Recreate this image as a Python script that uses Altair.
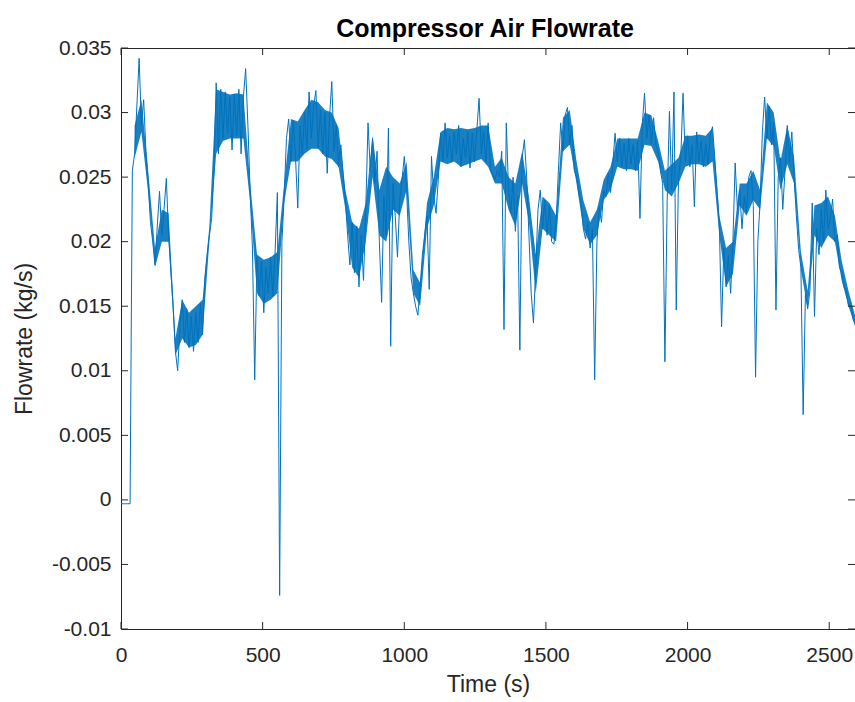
import altair as alt
import pandas as pd

# Sampling grid (s) and flowrate, in units of 1e-4 kg/s
TIME_S = list(range(0, 2600, 8))
FLOW_1E4 = [
    -3, -3, -3, -3, -3,
    255, 268, 305, 342, 290,
    310, 270, 245, 215, 200,
    182, 212, 239, 205, 225,
    249, 205, 178, 150, 115,
    100, 135, 155, 122, 148,
    118, 142, 115, 145, 122,
    152, 128, 172, 190, 205,
    218, 255, 323, 268, 318,
    280, 316, 284, 312, 271,
    314, 282, 318, 268, 312,
    334, 290, 238, 195, 93,
    188, 158, 185, 145, 180,
    160, 188, 158, 192, 238,
    -74, 200, 235, 280, 295,
    262, 294, 265, 226, 290,
    268, 300, 272, 316, 280,
    305, 317, 272, 302, 268,
    300, 253, 296, 324, 270,
    290, 258, 275, 253, 232,
    205, 182, 215, 176, 212,
    165, 205, 170, 225, 292,
    255, 280, 245, 270, 200,
    153, 235, 205, 288, 119,
    245, 220, 188, 232, 248,
    266, 240, 200, 172, 160,
    150, 143, 165, 190, 205,
    220, 163, 266, 235, 222,
    248, 284, 262, 292, 265,
    282, 262, 285, 268, 290,
    258, 280, 265, 285, 257,
    284, 262, 286, 311, 268,
    285, 262, 292, 256, 252,
    248, 255, 250, 270, 132,
    292, 240, 222, 250, 208,
    235, 116, 265, 279, 250,
    205, 160, 137, 180, 225,
    240, 210, 232, 205, 228,
    200, 198, 215, 255, 292,
    270, 298, 304, 275, 290,
    255, 250, 238, 230, 210,
    202, 215, 195, 210, 93,
    200, 227, 215, 240, 235,
    253, 238, 260, 284, 262,
    280, 258, 276, 255, 280,
    260, 275, 255, 278, 218,
    290, 315, 280, 298, 276,
    296, 275, 270, 255, 245,
    107, 232, 301, 240, 316,
    147, 250, 265, 315, 262,
    282, 258, 275, 227, 285,
    262, 278, 258, 276, 260,
    282, 289, 265, 240, 215,
    134, 195, 165, 190, 160,
    200, 261, 225, 240, 210,
    235, 222, 250, 255, 228,
    95, 200, 230, 285, 312,
    280, 305, 275, 292, 147,
    250, 265, 225, 255, 290,
    262, 285, 250, 220, 194,
    180, 66, 160, 148, 162,
    230, 142, 210, 190, 225,
    200, 240, 210, 218, 233,
    200, 205, 180, 176, 165,
    162, 150, 153, 140, 136,
]

# Dense noise band (lower / upper edge), 1e-4 kg/s
BAND_T = [
    48, 72, 96, 120, 144, 168, 192, 216, 240,
    264, 288, 312, 336, 360, 384, 408, 432, 456,
    480, 504, 528, 552, 576, 600, 624, 648, 672,
    696, 720, 744, 768, 792, 816, 840, 864, 888,
    912, 936, 960, 984, 1008, 1032, 1056, 1080, 1104,
    1128, 1152, 1176, 1200, 1224, 1248, 1272, 1296, 1320,
    1344, 1368, 1392, 1416, 1440, 1464, 1488, 1512, 1536,
    1560, 1584, 1608, 1632, 1656, 1680, 1704, 1728, 1752,
    1776, 1800, 1824, 1848, 1872, 1896, 1920, 1944, 1968,
    1992, 2016, 2040, 2064, 2088, 2112, 2136, 2160, 2184,
    2208, 2232, 2256, 2280, 2304, 2328, 2352, 2376, 2400,
    2424, 2448, 2472, 2496, 2520, 2544, 2568, 2592,
]
BAND_LO = [
    265, 285, 238, 180, 200, 200, 112, 125, 118,
    120, 128, 200, 268, 278, 280, 280, 280, 230,
    160, 152, 155, 160, 230, 262, 262, 268, 272,
    272, 266, 264, 258, 225, 180, 172, 200, 250,
    205, 200, 225, 220, 240, 160, 150, 210, 228,
    262, 260, 262, 258, 260, 262, 264, 258, 245,
    245, 225, 212, 245, 215, 160, 210, 205, 200,
    270, 275, 245, 210, 198, 205, 232, 240, 258,
    256, 256, 255, 275, 274, 262, 240, 235, 245,
    258, 260, 260, 258, 262, 205, 165, 175, 228,
    220, 232, 225, 280, 274, 240, 260, 245, 178,
    148, 205, 195, 205, 200, 170, 150, 134,
]
BAND_HI = [
    290, 310, 255, 195, 225, 222, 125, 155, 145,
    150, 155, 212, 318, 316, 314, 315, 314, 245,
    190, 186, 188, 192, 245, 295, 293, 302, 310,
    308, 302, 300, 288, 240, 215, 210, 230, 282,
    240, 258, 250, 245, 262, 178, 168, 230, 250,
    285, 288, 287, 288, 287, 288, 290, 290, 258,
    265, 250, 245, 270, 235, 190, 235, 230, 220,
    296, 302, 262, 232, 215, 225, 248, 258, 280,
    280, 280, 280, 300, 298, 278, 255, 260, 265,
    282, 282, 283, 282, 288, 220, 195, 200, 245,
    245, 255, 240, 308, 300, 262, 290, 265, 192,
    162, 228, 230, 235, 220, 185, 162, 142,
]

TITLE = ["Compressor Air Flowrate"]
X_TICKS = [0, 500, 1000, 1500, 2000, 2500]
Y_TICKS = [-0.01, -0.005, 0, 0.005, 0.01, 0.015, 0.02, 0.025, 0.03, 0.035]
X_DOMAIN = [0, 2591]
Y_DOMAIN = [-0.01, 0.035]

df = pd.DataFrame({"t": TIME_S, "v": [f / 10000 for f in FLOW_1E4]})
band = pd.DataFrame(
    [{"t": t, "v": lo / 10000, "v2": hi / 10000} for t, lo, hi in zip(BAND_T, BAND_LO, BAND_HI)]
)
xt = pd.DataFrame({"t": X_TICKS})
yt = pd.DataFrame({"v": Y_TICKS})
tt = pd.DataFrame({"title": TITLE})

W, H = 734, 581
FONT = "Liberation Sans"
AX = "#262626"
BLUE = "#0072BD"

x_axis = alt.Axis(
    values=X_TICKS, format="d", title="Time (s)", grid=False, ticks=False,
    domain=False, labelFont=FONT, labelFontSize=21, labelColor=AX,
    labelPadding=15, titleFont=FONT, titleFontSize=23, titleFontWeight="normal",
    titleColor=AX, titlePadding=8, labelFlush=False,
)
y_axis = alt.Axis(
    values=Y_TICKS, labelExpr="'' + datum.value", title="Flowrate (kg/s)",
    grid=False, ticks=False, domain=False, labelFont=FONT, labelFontSize=21,
    labelColor=AX, labelPadding=10, titleFont=FONT, titleFontSize=23,
    titleFontWeight="normal", titleColor=AX, titlePadding=15, labelFlush=False,
)
xs = alt.Scale(domain=X_DOMAIN, nice=False, zero=False)
ys = alt.Scale(domain=Y_DOMAIN, nice=False, zero=False)

X = alt.X("t:Q", scale=xs, axis=x_axis)
Y = alt.Y("v:Q", scale=ys, axis=y_axis)

band_area = alt.Chart(band).mark_area(color=BLUE, opacity=0.9, clip=True).encode(
    x=X, y=Y, y2="v2:Q")
line = alt.Chart(df).mark_line(color=BLUE, strokeWidth=1, clip=True).encode(x=X, y=Y)

tick_len = 7
bottom_ticks = alt.Chart(xt).mark_rule(color=AX, strokeWidth=1).encode(
    x=X, y=alt.value(H), y2=alt.value(H - tick_len))
top_ticks = alt.Chart(xt).mark_rule(color=AX, strokeWidth=1).encode(
    x=X, y=alt.value(0), y2=alt.value(tick_len))
left_ticks = alt.Chart(yt).mark_rule(color=AX, strokeWidth=1).encode(
    y=Y, x=alt.value(0), x2=alt.value(tick_len))
right_ticks = alt.Chart(yt).mark_rule(color=AX, strokeWidth=1).encode(
    y=Y, x=alt.value(W - tick_len), x2=alt.value(W))

title_text = alt.Chart(tt).mark_text(
    font=FONT, fontSize=25, fontWeight="bold", color="#000000",
    align="center", baseline="alphabetic",
).encode(text="title:N", x=alt.value(W / 2 - 3), y=alt.value(-11))

chart = alt.layer(
    band_area, line, bottom_ticks, top_ticks, left_ticks, right_ticks, title_text
).properties(
    width=W, height=H,
    autosize=alt.AutoSizeParams(type="none"),
    padding={"left": 121, "top": 48, "right": 0, "bottom": 73},
    background="white",
).configure_view(stroke=AX, strokeWidth=1)

chart.save("out.html", embed_options={"renderer": "svg", "actions": False})
